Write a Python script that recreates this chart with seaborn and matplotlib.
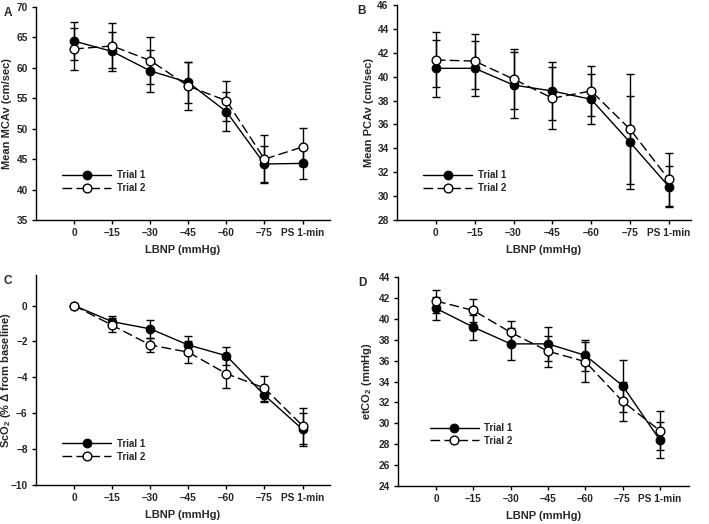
import numpy as np
import pandas as pd
import matplotlib
matplotlib.use("Agg")
import matplotlib.pyplot as plt
import seaborn as sns

# stages of LBNP
stages = ['0', '\u201315', '\u201330', '\u201345', '\u201360', '\u201375', 'PS 1-min']

# Panel A - mean MCAv
mca_t1 = [64.4, 62.7, 59.5, 57.6, 52.8, 44.2, 44.3]
mca_t1_err = [3.1, 3.2, 3.5, 3.4, 3.2, 2.9, 2.6]
mca_t2 = [63.1, 63.6, 61.2, 57.0, 54.6, 45.0, 47.0]
mca_t2_err = [3.5, 3.7, 3.9, 3.9, 3.3, 4.0, 3.1]

# Panel B - mean PCAv
pca_t1 = [40.7, 40.7, 39.3, 38.8, 38.1, 34.5, 30.8]
pca_t1_err = [2.4, 2.3, 2.8, 2.4, 2.1, 3.9, 1.7]
pca_t2 = [41.4, 41.3, 39.8, 38.2, 38.8, 35.6, 31.4]
pca_t2_err = [2.3, 2.3, 2.5, 2.6, 2.1, 4.6, 2.2]

# Panel C - ScO2 % change
sco_t1 = [0.0, -0.9, -1.3, -2.2, -2.8, -5.0, -6.9]
sco_t1_err = [0.0, 0.3, 0.5, 0.5, 0.5, 0.35, 0.9]
sco_t2 = [0.0, -1.1, -2.2, -2.6, -3.8, -4.6, -6.7]
sco_t2_err = [0.0, 0.4, 0.4, 0.6, 0.8, 0.7, 1.0]

# Panel D - etCO2
etc_t1 = [41.0, 39.2, 37.6, 37.6, 36.5, 33.6, 28.4]
etc_t1_err = [1.1, 1.2, 1.5, 1.6, 1.5, 2.5, 1.7]
etc_t2 = [41.7, 40.8, 38.7, 36.9, 35.9, 32.1, 29.3]
etc_t2_err = [1.1, 1.1, 1.1, 1.5, 1.9, 1.9, 1.9]

sns.set_style("ticks")
plt.rcParams['font.family'] = ['Liberation Sans', 'DejaVu Sans']
plt.rcParams['font.weight'] = 'bold'
plt.rcParams['mathtext.fontset'] = 'custom'
plt.rcParams['mathtext.rm'] = 'Liberation Sans:bold'
plt.rcParams['mathtext.bf'] = 'Liberation Sans:bold'
plt.rcParams['mathtext.it'] = 'Liberation Sans:bold'

W, H = 709, 524
fig = plt.figure(figsize=(W / 100, H / 100), dpi=100)


def px_axes(left, right, top, bottom):
    return fig.add_axes([left / W, 1 - bottom / H, (right - left) / W, (bottom - top) / H])


panels = [
    dict(box=(36, 330, 7, 220), t1=mca_t1, e1=mca_t1_err, t2=mca_t2, e2=mca_t2_err,
         ylim=(35, 70), yticks=np.arange(35, 71, 5), ylabel='Mean MCAv (cm/sec)',
         letter='A', leg=(0.06, 0.085), ylab_x=12, xlim=(-1.0, 6.72)),
    dict(box=(397, 691, 5, 220), t1=pca_t1, e1=pca_t1_err, t2=pca_t2, e2=pca_t2_err,
         ylim=(28, 46), yticks=np.arange(28, 47, 2), ylabel='Mean PCAv (cm/sec)',
         letter='B', leg=(0.06, 0.085), ylab_x=374, xlim=(-1.0, 6.57)),
    dict(box=(36, 330, 275, 485), t1=sco_t1, e1=sco_t1_err, t2=sco_t2, e2=sco_t2_err,
         ylim=(-10, 1.7), yticks=np.arange(-10, 1, 2),
         ylabel='ScO$_{2}$ (% \u0394 from baseline)', letter='C', leg=(0.06, 0.07),
         ylab_x=13, xlim=(-1.0, 6.72)),
    dict(box=(398, 689, 277, 486), t1=etc_t1, e1=etc_t1_err, t2=etc_t2, e2=etc_t2_err,
         ylim=(24, 44), yticks=np.arange(24, 45, 2), ylabel='etCO$_{2}$ (mmHg)',
         letter='D', leg=(0.08, 0.15), ylab_x=374, xlim=(-1.02, 6.78)),
]

xpos = np.arange(len(stages))

for p in panels:
    ax = px_axes(*p['box'])
    df = pd.DataFrame({'x': np.concatenate([xpos, xpos]),
                       'y': p['t1'] + p['t2'],
                       'err': p['e1'] + p['e2'],
                       'trial': ['Trial 1'] * 7 + ['Trial 2'] * 7})
    d1 = df[df.trial == 'Trial 1']
    d2 = df[df.trial == 'Trial 2']
    ax.errorbar(d1.x, d1.y, yerr=d1.err, fmt='none', ecolor='black', elinewidth=1,
                capsize=3, capthick=1, zorder=2)
    ax.errorbar(d2.x, d2.y, yerr=d2.err, fmt='none', ecolor='black', elinewidth=1,
                capsize=3, capthick=1, zorder=2)
    sns.lineplot(data=d1, x='x', y='y', ax=ax, color='black', lw=1, marker='o',
                 markersize=6.3, markerfacecolor='black', markeredgecolor='black',
                 label='Trial 1', zorder=3)
    sns.lineplot(data=d2, x='x', y='y', ax=ax, color='black', lw=1, marker='o',
                 markersize=6.3, markerfacecolor='white', markeredgecolor='black',
                 markeredgewidth=1, linestyle=(0, (7, 3)), label='Trial 2', zorder=4)

    ax.set_xlim(*p['xlim'])
    ax.set_ylim(*p['ylim'])
    ax.set_yticks(p['yticks'])
    ax.set_xticks(xpos)
    ax.set_xticklabels(stages)
    ax.tick_params(direction='out', length=3, width=1, labelsize=7.3, pad=3, color='black')
    for lab in ax.get_xticklabels() + ax.get_yticklabels():
        lab.set_fontweight('bold')
    ax.set_xlabel('LBNP (mmHg)', fontsize=8, fontweight='bold', labelpad=5)
    ax.set_ylabel(p['ylabel'], fontsize=8, fontweight='bold')
    x0, x1 = p['box'][0], p['box'][1]
    ax.yaxis.set_label_coords((p['ylab_x'] - x0) / (x1 - x0), 0.5)
    sns.despine(ax=ax)
    for s in ['left', 'bottom']:
        ax.spines[s].set_linewidth(1)
        ax.spines[s].set_color('black')
    leg = ax.legend(loc='lower left', bbox_to_anchor=p['leg'], frameon=False,
                    handlelength=5, fontsize=7, labelspacing=0.3, handletextpad=0.6)
    for t in leg.get_texts():
        t.set_fontweight('bold')
    fig.text((x0 - 32 if x0 < 100 else x0 - 40) / W, 1 - (p['box'][2] + 6) / H,
             p['letter'], fontsize=8.5, fontweight='bold', va='center', ha='left')

fig.savefig('out.png', dpi=100)
